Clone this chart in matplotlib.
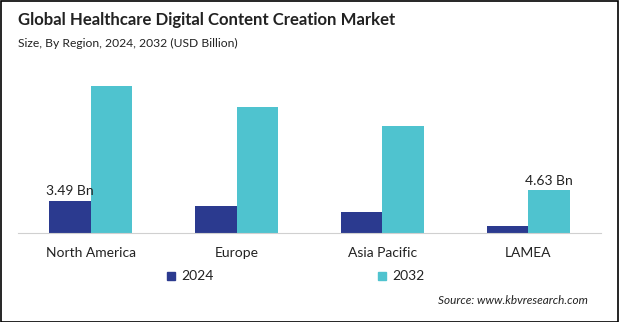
import matplotlib
matplotlib.use("Agg")
import matplotlib.pyplot as plt
from matplotlib.patches import Rectangle
import numpy as np

categories = ["North America", "Europe", "Asia Pacific", "LAMEA"]
years = ["2024", "2032"]
values_2024 = [3.49, 2.95, 2.30, 0.80]
values_2032 = [15.9, 13.6, 11.6, 4.63]
label_2024 = ["3.49 Bn", None, None, None]
label_2032 = [None, None, None, "4.63 Bn"]

c2024 = "#2B3A8F"
c2032 = "#4FC3CF"
font = "Lato"

fig = plt.figure(figsize=(6.19, 3.22), dpi=100)
ax = fig.add_axes([18/619, (322-233)/322, 583/619, 163/322])

x = np.arange(len(categories))
w = 0.285
ax.bar(x - w/2, values_2024, w, color=c2024, label=years[0])
ax.bar(x + w/2, values_2032, w, color=c2032, label=years[1])

for i, lab in enumerate(label_2024):
    if lab:
        ax.text(x[i] - w/2, values_2024[i] + 0.35, lab, ha="center", va="bottom",
                fontsize=10, family=font, color="#222222")
for i, lab in enumerate(label_2032):
    if lab:
        ax.text(x[i] + w/2, values_2032[i] + 0.35, lab, ha="center", va="bottom",
                fontsize=10, family=font, color="#222222")

ax.set_xlim(-0.5, 3.5)
ax.set_ylim(0, 17.6)
ax.set_yticks([])
ax.set_xticks(x)
ax.set_xticklabels(categories, fontsize=10, family=font, color="#222222")
ax.tick_params(axis="x", length=0, pad=10)
for s in ["top", "right", "left"]:
    ax.spines[s].set_visible(False)
ax.spines["bottom"].set_color("#D0D0D0")

fig.text(18/619, 1 - 20/322, "Global Healthcare Digital Content Creation Market",
         fontsize=12.1, fontweight="bold", family=font, va="center", ha="left", color="#222222")
fig.text(18/619, 1 - 43/322, "Size, By Region, 2024, 2032 (USD Billion)",
         fontsize=8.7, family=font, va="center", ha="left", color="#222222")

# legend
fig.patches.append(Rectangle((171/619 - 4/619, 1 - 280/322), 8/619, 8/322,
                             transform=fig.transFigure, color=c2024))
fig.text(181/619, 1 - 276/322, years[0], fontsize=10, family=font, va="center", ha="left", color="#222222")
fig.patches.append(Rectangle((382/619 - 4/619, 1 - 280/322), 8/619, 8/322,
                             transform=fig.transFigure, color=c2032))
fig.text(392/619, 1 - 276/322, years[1], fontsize=10, family=font, va="center", ha="left", color="#222222")

fig.text(588/619, 1 - 301/322, "Source: www.kbvresearch.com", fontsize=8.5, style="italic",
         family=font, va="center", ha="right", color="#222222")

fig.patches.append(Rectangle((0.5/619, 0.5/322), 1 - 1.5/619, 1 - 1.5/322, transform=fig.transFigure,
                             fill=False, edgecolor="black", linewidth=1.2))

fig.savefig("out.png", dpi=100)
